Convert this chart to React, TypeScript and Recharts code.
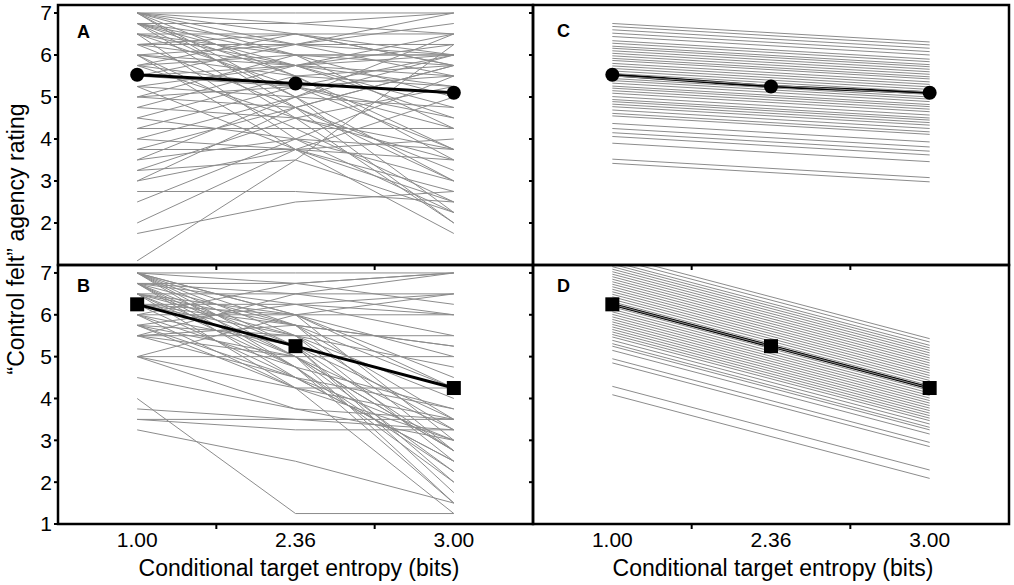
import { LineChart, Line, XAxis, YAxis } from 'recharts';

// x categories (plotted at equal spacing, like the original figure)
const X_POS = [1, 2, 3];
const X_LABELS = ['1.00', '2.36', '3.00'];
const X_MINOR = [1.5, 2.5];
const Y_TICKS_TOP = [2, 3, 4, 5, 6, 7];
const Y_TICKS_BOTTOM = [1, 2, 3, 4, 5, 6, 7];

// A: observed ratings per participant (target set 1)
const subjectsA = [
  [7, 7, 7], [7, 6.75, 6.5], [7, 6.5, 5.75], [7, 6, 5], [7, 5.5, 3.5], [7, 5, 3],
  [6.75, 6.75, 7], [6.75, 6.25, 6], [6.75, 5.75, 4.75], [6.75, 5, 2.25], [6.75, 4.5, 2],
  [6.5, 6.5, 6.5], [6.5, 6, 6], [6.5, 5.25, 3.75], [6.5, 4, 2.25],
  [6.25, 6.25, 6.25], [6.25, 5.75, 5.5], [6.25, 4.75, 3],
  [6, 6.25, 6.75], [6, 5.5, 5.25], [6, 4.25, 2.5], [6, 3.75, 1.75],
  [5.75, 6, 5.75], [5.75, 5.25, 4.25], [5.75, 4.5, 3.5],
  [5.5, 6.25, 7], [5.5, 5.75, 6], [5.5, 5.25, 4.5],
  [5.25, 5.75, 6.5], [5.25, 5, 4.75], [5.25, 3.75, 2.75],
  [5, 6, 6], [5, 5.25, 5.5], [5, 4.75, 3.25],
  [4.75, 5.75, 6.25], [4.75, 4.5, 3.75], [4.5, 5.5, 5.75], [4.5, 4, 3],
  [4.25, 5.25, 6], [4.25, 4.25, 4.25], [4, 5, 6], [4, 3.75, 3.5],
  [3.75, 4.75, 5.75], [3.75, 3.75, 2.5], [3.5, 5, 6.5], [3.5, 4, 3.75],
  [3.25, 4.5, 5.25], [3.25, 3.5, 2.25], [3, 4.75, 5.75], [3, 3.75, 4],
  [2.75, 2.75, 2.5], [2.5, 4, 5.5], [2, 3.75, 5], [1.75, 2.5, 2.75], [1.1, 3.5, 6.25],
  [7, 6.25, 5.5], [7, 4.75, 2], [6.75, 6, 4.25], [6.75, 5.5, 3.75],
  [6.5, 5.75, 5.25], [6.25, 6.5, 6], [6, 5.75, 4.5], [5.75, 6.5, 5.75],
];
const meanA = [5.53, 5.32, 5.1];

// B: observed ratings per participant (target set 2)
const subjectsB = [
  [7, 7, 7], [7, 6.75, 6.25], [7, 6, 3], [7, 5.5, 2.5], [7, 5.25, 1.75], [7, 5, 1.5], [7, 4.75, 2.25],
  [6.75, 6.75, 7], [6.75, 6.25, 5.5], [6.75, 5.75, 3.5], [6.75, 5.25, 2], [6.75, 5, 2.75],
  [6.75, 4.5, 3], [6.75, 4.75, 1.5],
  [6.5, 6.5, 6.5], [6.5, 6, 4.5], [6.5, 5.5, 3.25], [6.5, 5, 2.25], [6.5, 4.25, 1.25], [6.5, 4.75, 3.75],
  [6.25, 6.25, 6], [6.25, 5.75, 5.25], [6.25, 5.25, 2.75], [6.25, 4.5, 2.5], [6.25, 5.5, 4],
  [6, 6.75, 7], [6, 6, 6], [6, 5.25, 3.5], [6, 4.75, 2], [6, 4.25, 3],
  [5.75, 6.25, 6.5], [5.75, 5.5, 4.75], [5.75, 5, 3.25], [5.75, 4.5, 2.5], [5.75, 4.25, 3.5],
  [5.5, 6.5, 7], [5.5, 5.75, 5.25], [5.5, 5, 2.75], [5.5, 4.5, 3.75], [5.5, 5.5, 5.5],
  [5, 5, 5], [5, 6, 6.5], [5, 4.25, 4.25], [5, 3.75, 3],
  [4.5, 3.75, 3.5], [4, 1.25, 1.25], [3.75, 3.5, 3.5], [3.5, 3.5, 3.25], [3.5, 3.25, 3.25],
  [3.25, 2.5, 1.5], [7, 6, 4.25], [6.75, 6.5, 6], [7, 5.75, 2.75], [6.5, 5.75, 4.25], [6.25, 6, 5],
];
const meanB = [6.25, 5.25, 4.25];

// C: model-fitted lines for set 1
const fitsC = [
  [6.75, 6.53, 6.31], [6.68, 6.46, 6.24], [6.6, 6.38, 6.16], [6.52, 6.3, 6.08], [6.44, 6.22, 6.0],
  [6.34, 6.12, 5.9], [6.28, 6.06, 5.84], [6.21, 5.99, 5.77], [6.16, 5.94, 5.72], [6.1, 5.88, 5.66],
  [6.04, 5.82, 5.6], [5.98, 5.76, 5.54], [5.92, 5.7, 5.48], [5.87, 5.65, 5.43], [5.8, 5.58, 5.36],
  [5.74, 5.52, 5.3], [5.68, 5.46, 5.24], [5.62, 5.4, 5.18], [5.56, 5.34, 5.12], [5.5, 5.28, 5.06],
  [5.44, 5.22, 5.0], [5.39, 5.17, 4.95], [5.33, 5.11, 4.89], [5.26, 5.04, 4.82], [5.21, 4.99, 4.77],
  [5.15, 4.93, 4.71], [5.09, 4.87, 4.65], [5.01, 4.79, 4.57], [4.94, 4.72, 4.5], [4.89, 4.67, 4.45],
  [4.83, 4.61, 4.39], [4.77, 4.55, 4.33], [4.69, 4.47, 4.25], [4.61, 4.39, 4.17], [4.55, 4.33, 4.11],
  [4.37, 4.15, 3.93], [4.25, 4.03, 3.81], [4.15, 3.93, 3.71], [4.06, 3.84, 3.62], [3.9, 3.68, 3.46],
  [3.52, 3.3, 3.08], [3.42, 3.2, 2.98],
];
const meanC = [5.53, 5.25, 5.1];

// D: model-fitted lines for set 2
const fitsD = [
  [7.43, 6.43, 5.43], [7.35, 6.35, 5.35], [7.27, 6.27, 5.27], [7.21, 6.21, 5.21], [7.15, 6.15, 5.15],
  [7.09, 6.09, 5.09], [7.03, 6.03, 5.03], [6.97, 5.97, 4.97], [6.91, 5.91, 4.91], [6.85, 5.85, 4.85],
  [6.79, 5.79, 4.79], [6.73, 5.73, 4.73], [6.67, 5.67, 4.67], [6.61, 5.61, 4.61], [6.55, 5.55, 4.55],
  [6.49, 5.49, 4.49], [6.43, 5.43, 4.43], [6.37, 5.37, 4.37], [6.31, 5.31, 4.31], [6.25, 5.25, 4.25],
  [6.19, 5.19, 4.19], [6.13, 5.13, 4.13], [6.07, 5.07, 4.07], [6.01, 5.01, 4.01], [5.95, 4.95, 3.95],
  [5.89, 4.89, 3.89], [5.83, 4.83, 3.83], [5.77, 4.77, 3.77], [5.71, 4.71, 3.71], [5.65, 4.65, 3.65],
  [5.59, 4.59, 3.59], [5.53, 4.53, 3.53], [5.47, 4.47, 3.47], [5.39, 4.39, 3.39], [5.31, 4.31, 3.31],
  [5.25, 4.25, 3.25], [5.15, 4.15, 3.15], [4.95, 3.95, 2.95], [4.85, 3.85, 2.85], [4.29, 3.29, 2.29],
  [4.09, 3.09, 2.09],
];
const meanD = [6.25, 5.25, 4.25];

const W = 1014;
const H = 585;
const FONT = '"Liberation Sans", Arial, Helvetica, sans-serif';
const GRAY = '#8c8c8c';
const Y_AXIS_W = 40;
const X_AXIS_H = 30;

type PanelProps = {
  subjects: number[][];
  mean: number[];
  marker: 'circle' | 'square';
  rect: [number, number, number, number];
  yTicks: number[];
  yLabels: boolean;
  xLabels: boolean;
  meanOnTop: boolean;
};

function XTick(props: any) {
  const { x, y, payload, showLabels } = props;
  const v = payload.value;
  if (X_MINOR.includes(v)) {
    return <line x1={x} x2={x} y1={y} y2={y + 5} stroke="#000" strokeWidth={2} />;
  }
  if (!showLabels) return <g />;
  return (
    <text x={x} y={y + 23} textAnchor="middle" fontSize={21} fontFamily={FONT} fill="#000">
      {X_LABELS[X_POS.indexOf(v)]}
    </text>
  );
}

function Panel({ subjects, mean, marker, rect, yTicks, yLabels, xLabels, meanOnTop }: PanelProps) {
  const [l, t, r, b] = rect;
  const rows = X_POS.map((pos, i) => {
    const row: Record<string, number> = { pos, mean: mean[i] };
    subjects.forEach((s, j) => {
      row[`s${j}`] = s[i];
    });
    return row;
  });

  const renderDot = (p: any) =>
    marker === 'circle' ? (
      <circle key={`d${p.index}`} cx={p.cx} cy={p.cy} r={7} fill="#000" />
    ) : (
      <rect key={`d${p.index}`} x={p.cx - 7} y={p.cy - 7} width={14} height={14} fill="#000" />
    );

  const grayLines = subjects.map((_, j) => (
    <Line
      key={`s${j}`}
      type="linear"
      dataKey={`s${j}`}
      stroke={GRAY}
      strokeWidth={1}
      dot={false}
      activeDot={false}
      isAnimationActive={false}
    />
  ));
  const meanLine = (
    <Line
      key="mean"
      type="linear"
      dataKey="mean"
      stroke="#000"
      strokeWidth={3}
      dot={renderDot}
      activeDot={false}
      isAnimationActive={false}
    />
  );

  return (
    <div style={{ position: 'absolute', left: 0, top: 0 }}>
      <LineChart
        width={W}
        height={H}
        data={rows}
        margin={{ top: t, left: l - Y_AXIS_W, right: W - r, bottom: H - b - X_AXIS_H }}
      >
        <XAxis
          type="number"
          dataKey="pos"
          domain={[0.5, 3.5]}
          ticks={[1, 1.5, 2, 2.5, 3]}
          interval={0}
          height={X_AXIS_H}
          axisLine={false}
          tickLine={false}
          tickSize={0}
          tickMargin={0}
          tick={(p: any) => <XTick {...p} showLabels={xLabels} />}
          allowDataOverflow
        />
        <YAxis
          type="number"
          domain={[1, 7.19]}
          ticks={yTicks}
          interval={0}
          width={Y_AXIS_W}
          axisLine={false}
          tickSize={4}
          tickMargin={2}
          tickLine={{ stroke: '#000', strokeWidth: 2 }}
          tick={{ fill: '#000', fontSize: 21, fontFamily: FONT }}
          tickFormatter={(v: number) => (yLabels ? String(v) : '')}
          allowDataOverflow
        />
        {meanOnTop ? [...grayLines, meanLine] : [meanLine, ...grayLines]}
      </LineChart>
    </div>
  );
}

const RECT_A: [number, number, number, number] = [58, 5, 533, 265];
const RECT_B: [number, number, number, number] = [58, 265, 533, 524];
const RECT_C: [number, number, number, number] = [533, 5, 1009, 265];
const RECT_D: [number, number, number, number] = [533, 265, 1009, 524];

export default function App() {
  const boxes = [RECT_A, RECT_B, RECT_C, RECT_D];
  return (
    <div
      style={{
        position: 'absolute',
        left: 0,
        top: 0,
        width: W,
        height: H,
        background: '#fff',
        fontFamily: FONT,
        overflow: 'hidden',
      }}
    >
      <Panel subjects={subjectsA} mean={meanA} marker="circle" rect={RECT_A} yTicks={Y_TICKS_TOP} yLabels xLabels={false} meanOnTop />
      <Panel subjects={subjectsB} mean={meanB} marker="square" rect={RECT_B} yTicks={Y_TICKS_BOTTOM} yLabels xLabels meanOnTop />
      <Panel subjects={fitsC} mean={meanC} marker="circle" rect={RECT_C} yTicks={Y_TICKS_TOP} yLabels={false} xLabels={false} meanOnTop={false} />
      <Panel subjects={fitsD} mean={meanD} marker="square" rect={RECT_D} yTicks={Y_TICKS_BOTTOM} yLabels={false} xLabels meanOnTop={false} />
      <svg width={W} height={H} style={{ position: 'absolute', left: 0, top: 0 }}>
        {boxes.map(([l, t, r, b], i) => (
          <rect key={i} x={l} y={t} width={r - l} height={b - t} fill="none" stroke="#000" strokeWidth={2.5} />
        ))}
        <text x={77} y={38} fontSize={18} fontWeight="bold" fontFamily={FONT}>A</text>
        <text x={77} y={292} fontSize={18} fontWeight="bold" fontFamily={FONT}>B</text>
        <text x={557} y={37} fontSize={18} fontWeight="bold" fontFamily={FONT}>C</text>
        <text x={557} y={292} fontSize={18} fontWeight="bold" fontFamily={FONT}>D</text>
        <text x={299} y={576} textAnchor="middle" fontSize={23} fontFamily={FONT}>
          Conditional target entropy (bits)
        </text>
        <text x={773} y={576} textAnchor="middle" fontSize={23} fontFamily={FONT}>
          Conditional target entropy (bits)
        </text>
        <text transform="translate(24,239) rotate(-90)" textAnchor="middle" fontSize={23} fontFamily={FONT}>
          “Control felt” agency rating
        </text>
      </svg>
    </div>
  );
}
